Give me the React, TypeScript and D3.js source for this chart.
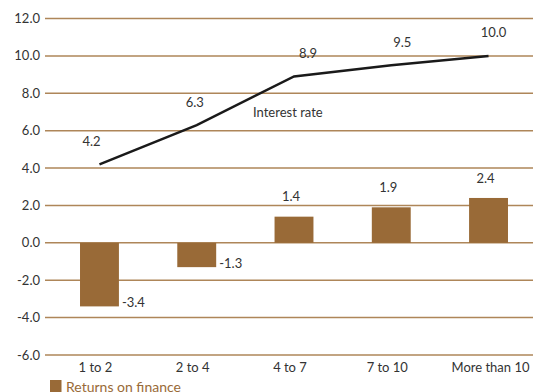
import React from "react";
import * as d3 from "d3";

const categories = ["1 to 2", "2 to 4", "4 to 7", "7 to 10", "More than 10"];
const returnsOnFinance = [-3.4, -1.3, 1.4, 1.9, 2.4];
const interestRate = [4.2, 6.3, 8.9, 9.5, 10.0];
const yTicks = [12, 10, 8, 6, 4, 2, 0, -2, -4, -6];

// small hand nudges for the line value labels
const rateLabelDx = [-8, -2, 14, 11, 5];

const W = 533;
const H = 392;
const FONT = "Lato, 'Open Sans', sans-serif";
const TEXT = "#333333";
const GRID = "#ae8659";
const BAR = "#996a37";

export default function App() {
  const y = d3.scaleLinear().domain([-6, 12]).range([355, 18.5]);
  const x = d3
    .scaleBand<string>()
    .domain(categories)
    .range([45, 543])
    .paddingInner(0.6)
    .paddingOuter(0.36);
  const cx = (c: string) => (x(c) ?? 0) + x.bandwidth() / 2;

  const line = d3
    .line<number>()
    .x((_, i) => cx(categories[i]))
    .y((d) => y(d));

  return (
    <svg
      width={W}
      height={H}
      style={{ position: "absolute", left: 0, top: 0, background: "#fff" }}
      fontFamily={FONT}
    >
      {yTicks.map((t) => (
        <g key={t}>
          <line x1={45} x2={W} y1={y(t)} y2={y(t)} stroke={GRID} strokeWidth={1.5} />
          <text
            x={40}
            y={y(t)}
            dy="0.35em"
            textAnchor="end"
            fontSize={13}
            fill={TEXT}
          >
            {t.toFixed(1)}
          </text>
        </g>
      ))}

      {returnsOnFinance.map((v, i) => {
        const c = categories[i];
        const top = y(Math.max(0, v));
        const h = Math.abs(y(v) - y(0));
        return (
          <g key={c}>
            <rect x={x(c)} y={top} width={x.bandwidth()} height={h} fill={BAR} />
            {v < 0 ? (
              <text
                x={(x(c) ?? 0) + x.bandwidth() + 3}
                y={y(v) - 4}
                dy="0.35em"
                fontSize={13}
                fill={TEXT}
              >
                {v.toFixed(1)}
              </text>
            ) : (
              <text
                x={cx(c) - 3}
                y={y(v) - 20}
                dy="0.35em"
                textAnchor="middle"
                fontSize={13}
                fill={TEXT}
              >
                {v.toFixed(1)}
              </text>
            )}
          </g>
        );
      })}

      <path d={line(interestRate) ?? ""} fill="none" stroke="#1a1a1a" strokeWidth={2.5} />
      {interestRate.map((v, i) => (
        <text
          key={i}
          x={cx(categories[i]) + rateLabelDx[i]}
          y={y(v) - 23}
          dy="0.35em"
          textAnchor="middle"
          fontSize={13}
          fill={TEXT}
        >
          {v.toFixed(1)}
        </text>
      ))}
      <text x={253} y={112} dy="0.35em" fontSize={13} fill={TEXT}>
        Interest rate
      </text>

      {categories.map((c) => (
        <text
          key={c}
          x={cx(c) - 4 + (c === "More than 10" ? 6 : 0)}
          y={367}
          dy="0.35em"
          textAnchor="middle"
          fontSize={13}
          fill={TEXT}
        >
          {c}
        </text>
      ))}

      <rect x={50} y={380} width={11.5} height={12} fill={BAR} />
      <text x={66} y={387} dy="0.35em" fontSize={14} fill={BAR}>
        Returns on finance
      </text>
    </svg>
  );
}
